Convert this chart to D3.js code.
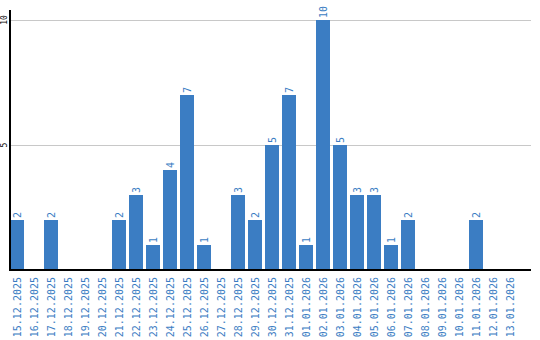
<!DOCTYPE html>
<html>
<head>
<meta charset="utf-8">
<script src="https://cdn.jsdelivr.net/npm/d3@7"></script>
<style>
  body { margin: 0; background: #fff; }
  text { font-family: "DejaVu Sans Mono", monospace; }
</style>
</head>
<body>
<div id="chart"></div>
<script>
const dates = [
  '15.12.2025', '16.12.2025', '17.12.2025', '18.12.2025', '19.12.2025', '20.12.2025',
  '21.12.2025', '22.12.2025', '23.12.2025', '24.12.2025', '25.12.2025', '26.12.2025',
  '27.12.2025', '28.12.2025', '29.12.2025', '30.12.2025', '31.12.2025', '01.01.2026',
  '02.01.2026', '03.01.2026', '04.01.2026', '05.01.2026', '06.01.2026', '07.01.2026',
  '08.01.2026', '09.01.2026', '10.01.2026', '11.01.2026', '12.01.2026', '13.01.2026'
];
const counts = [
  2, 0, 2, 0, 0, 0,
  2, 3, 1, 4, 7, 1,
  0, 3, 2, 5, 7, 1,
  10, 5, 3, 3, 1, 2,
  0, 0, 0, 2, 0, 0
];
const yTicks = [5, 10];

const data = dates.map((d, i) => ({ date: d, value: counts[i] }));

const chart = {
  width: 540,
  height: 340,
  left: 10,
  right: 531,
  top: 10,
  bottom: 270,
  blue: '#3b7dc3'
};

const svg = d3.select('#chart')
  .append('svg')
  .attr('width', chart.width)
  .attr('height', chart.height);

const x = d3.scaleBand()
  .domain(dates)
  .range([chart.left, chart.left + dates.length * 17 - 3])
  .paddingInner(3 / 17)
  .paddingOuter(0);

const y = d3.scaleLinear()
  .domain([0, 10])
  .range([chart.bottom, 20]);

// gridlines
svg.append('g')
  .selectAll('line')
  .data(yTicks)
  .enter()
  .append('line')
  .attr('x1', chart.left)
  .attr('x2', chart.right)
  .attr('y1', d => y(d) + 0.5)
  .attr('y2', d => y(d) + 0.5)
  .attr('stroke', '#c8c8c8')
  .attr('stroke-width', 1);

// y tick labels, rotated
svg.append('g')
  .selectAll('text')
  .data(yTicks)
  .enter()
  .append('text')
  .attr('transform', d => `translate(7, ${y(d)}) rotate(-90)`)
  .attr('text-anchor', 'middle')
  .attr('font-size', 8)
  .attr('fill', '#000')
  .text(d => d);

// bars
const bars = svg.append('g')
  .selectAll('g')
  .data(data.filter(d => d.value > 0))
  .enter()
  .append('g');

bars.append('rect')
  .attr('x', d => x(d.date))
  .attr('y', d => y(d.value))
  .attr('width', x.bandwidth())
  .attr('height', d => chart.bottom - y(d.value))
  .attr('fill', chart.blue);

bars.append('text')
  .attr('transform', d => `translate(${x(d.date) + x.bandwidth() / 2 + 3.5}, ${y(d.value) - 2}) rotate(-90)`)
  .attr('text-anchor', 'start')
  .attr('font-size', 10)
  .attr('fill', chart.blue)
  .text(d => d.value);

// axis lines
svg.append('line')
  .attr('x1', chart.left).attr('x2', chart.left)
  .attr('y1', chart.top).attr('y2', chart.bottom + 1)
  .attr('stroke', '#000')
  .attr('stroke-width', 2);

svg.append('line')
  .attr('x1', chart.left).attr('x2', chart.right)
  .attr('y1', chart.bottom).attr('y2', chart.bottom)
  .attr('stroke', '#000')
  .attr('stroke-width', 2);

// x tick labels, rotated
svg.append('g')
  .selectAll('text')
  .data(dates)
  .enter()
  .append('text')
  .attr('transform', d => `translate(${x(d) + x.bandwidth() / 2 + 3.5}, 277) rotate(-90)`)
  .attr('text-anchor', 'end')
  .attr('font-size', 10)
  .attr('fill', chart.blue)
  .text(d => d);
</script>
</body>
</html>
